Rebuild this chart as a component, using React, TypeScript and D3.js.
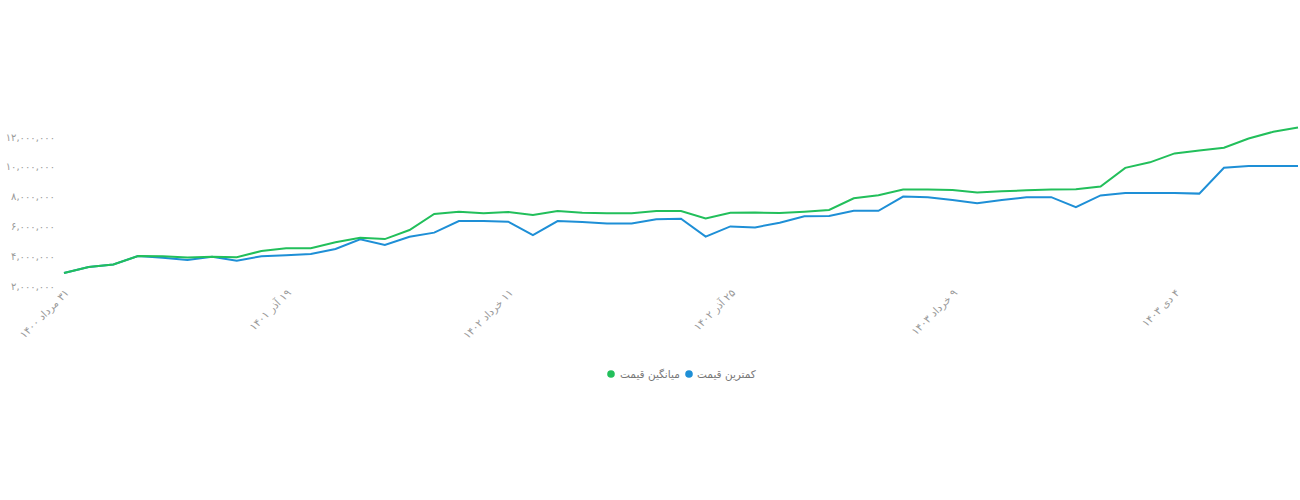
import React from "react";
import * as d3 from "d3";

// values in millions of rials
const avgPrice = [
  2.87, 3.28, 3.45, 4.01, 4.0, 3.92, 3.97, 3.93, 4.35, 4.53,
  4.53, 4.93, 5.24, 5.15, 5.76, 6.83, 6.99, 6.88, 6.97, 6.77,
  7.03, 6.92, 6.88, 6.88, 7.03, 7.03, 6.54, 6.92, 6.93, 6.9,
  6.99, 7.1, 7.89, 8.09, 8.47, 8.47, 8.44, 8.27, 8.36, 8.42,
  8.47, 8.5, 8.67, 9.93, 10.3, 10.9, 11.1, 11.28, 11.9, 12.35,
  12.64,
];
const minPrice = [
  2.87, 3.28, 3.45, 4.01, 3.9, 3.74, 3.97, 3.7, 4.0, 4.06,
  4.15, 4.48, 5.13, 4.75, 5.31, 5.58, 6.36, 6.36, 6.32, 5.42,
  6.36, 6.3, 6.2, 6.2, 6.48, 6.52, 5.31, 6.0, 5.93, 6.25,
  6.68, 6.7, 7.05, 7.05, 8.0, 7.96, 7.77, 7.56, 7.77, 7.96,
  7.96, 7.29, 8.08, 8.24, 8.24, 8.24, 8.2, 9.93, 10.05, 10.05,
  10.05,
];
const xLabels = [
  "۳۱ مرداد ۱۴۰۰",
  "۱۹ آذر ۱۴۰۱",
  "۱۱ خرداد ۱۴۰۲",
  "۲۵ آذر ۱۴۰۲",
  "۹ خرداد ۱۴۰۳",
  "۴ دی ۱۴۰۳",
];
const labelStep = 9;
const yTicks = [2, 4, 6, 8, 10, 12];
const seriesNames = ["میانگین قیمت", "کمترین قیمت"];
const colors = { avg: "#22bf5b", min: "#1e8fd6" };

const faDigits = (s: string) => s.replace(/\d/g, (d) => "۰۱۲۳۴۵۶۷۸۹"[+d]);

const W = 1300;
const H = 500;
const FONT = "'DejaVu Sans', sans-serif";

export default function App() {
  const x = d3.scaleLinear().domain([0, avgPrice.length - 1]).range([64, 1298]);
  const y = d3.scaleLinear().domain([2, 12]).range([286, 137]);

  const line = d3
    .line<number>()
    .x((_, i) => x(i))
    .y((d) => y(d));

  const fmt = d3.format(",");

  return (
    <svg
      width={W}
      height={H}
      style={{ position: "absolute", left: 0, top: 0, background: "#fff" }}
      fontFamily={FONT}
    >
      {yTicks.map((t) => (
        <text
          key={t}
          x={55}
          y={y(t)}
          dy="0.35em"
          textAnchor="end"
          fontSize={10}
          fill="#9a9a9a"
        >
          {faDigits(fmt(t * 1000000))}
        </text>
      ))}

      {xLabels.map((lab, k) => (
        <text
          key={lab}
          transform={`translate(${x(k * labelStep) + 3},${291}) rotate(-45)`}
          direction="rtl"
          textAnchor="start"
          dy="0.35em"
          fontSize={10.5}
          fill="#9a9a9a"
        >
          {lab}
        </text>
      ))}

      <path d={line(minPrice) ?? ""} fill="none" stroke={colors.min} strokeWidth={2} />
      <path d={line(avgPrice) ?? ""} fill="none" stroke={colors.avg} strokeWidth={2} />

      <g fontSize={10.5} fill="#777">
        <circle cx={611} cy={374} r={3.8} fill={colors.avg} />
        <text x={620} y={374} dy="0.35em" direction="rtl" textAnchor="end">
          {seriesNames[0]}
        </text>
        <circle cx={689} cy={374} r={3.8} fill={colors.min} />
        <text x={697} y={374} dy="0.35em" direction="rtl" textAnchor="end">
          {seriesNames[1]}
        </text>
      </g>
    </svg>
  );
}
